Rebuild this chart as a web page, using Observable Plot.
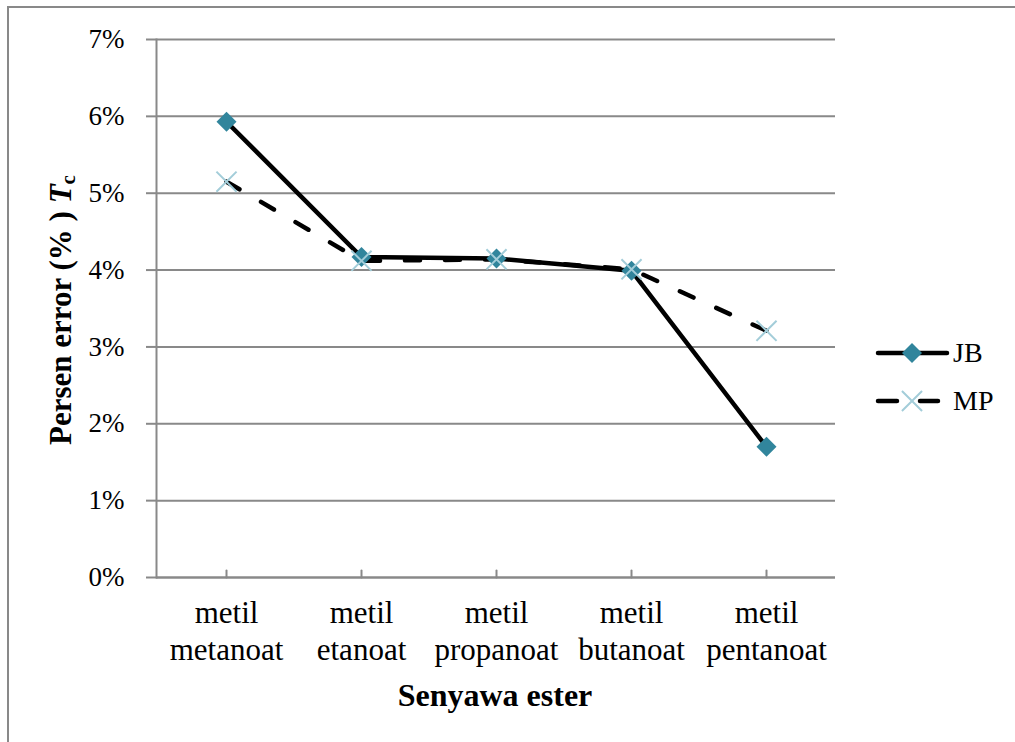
<!DOCTYPE html>
<html>
<head>
<meta charset="utf-8">
<script src="https://cdn.jsdelivr.net/npm/d3@7"></script>
<script src="https://cdn.jsdelivr.net/npm/@observablehq/plot@0.6"></script>
<style>
  html, body { margin: 0; padding: 0; background: #fff; }
  #wrap { position: relative; width: 1015px; height: 742px; overflow: hidden; font-family: "Liberation Serif", "Times New Roman", serif; color: #000; }
  #border { position: absolute; left: 7px; top: 6px; width: 1100px; height: 800px; border-left: 2px solid #898989; border-top: 2px solid #898989; box-sizing: border-box; }
  #chart { position: absolute; left: 0; top: 0; }
  .ytitle { position: absolute; left: 62px; top: 310px; transform: translate(-50%, -50%) rotate(-90deg); font-weight: bold; font-size: 31px; white-space: nowrap; line-height: 1; }
  .ytitle sub { font-size: 21px; vertical-align: -4px; }
  .xtitle { position: absolute; left: 495px; top: 679px; transform: translateX(-50%); font-weight: bold; font-size: 32px; white-space: nowrap; line-height: 1; }
  #legend { position: absolute; left: 870px; top: 330px; }
  .lrow { position: absolute; left: 0; display: flex; align-items: center; font-size: 28px; white-space: nowrap; }
  .lrow svg { display: block; }
</style>
</head>
<body>
<div id="wrap">
  <div id="border"></div>
  <div id="chart"></div>
  <div class="ytitle">Persen error (% ) <i>T</i><sub>c</sub></div>
  <div class="xtitle">Senyawa ester</div>
  <div id="legend"></div>
</div>
<script>
// ---- data ----
const categories = ["metil\nmetanoat", "metil\netanoat", "metil\npropanoat", "metil\nbutanoat", "metil\npentanoat"];
const seriesNames = ["JB", "MP"];
const jbValues = [0.0593, 0.0417, 0.0415, 0.0399, 0.0170];
const mpValues = [0.0515, 0.0412, 0.0414, 0.0401, 0.0321];
const yTicks = [0, 0.01, 0.02, 0.03, 0.04, 0.05, 0.06, 0.07];

// ---- styles ----
const gridColor = "#898989";
const jbColor = "#31859C";
const mpColor = "#A3CDD9";

const jb = categories.map((c, i) => ({cat: c, value: jbValues[i]}));
const mp = categories.map((c, i) => ({cat: c, value: mpValues[i]}));

const tickUp = {draw(context, l) { context.moveTo(0, 0); context.lineTo(0, -l); }};

const chart = Plot.plot({
  width: 1015,
  height: 742,
  marginLeft: 156,
  marginRight: 180,
  marginTop: 39,
  marginBottom: 165,
  style: {fontFamily: "'Liberation Serif', 'Times New Roman', serif", fontSize: "27px", color: "#000", background: "transparent", overflow: "visible"},
  x: {type: "point", domain: categories, padding: 0.5, label: null},
  y: {domain: [0, 0.07], label: null},
  marks: [
    Plot.gridY(yTicks, {stroke: gridColor, strokeOpacity: 1, strokeWidth: 2}),
    Plot.frame({anchor: "left", stroke: gridColor, strokeWidth: 2}),
    Plot.ruleY([0], {stroke: gridColor, strokeWidth: 2}),
    Plot.axisY(yTicks, {tickFormat: d3.format(".0%"), tickSize: 10, tickPadding: 22, stroke: gridColor, strokeWidth: 2, fontSize: 27, fontFamily: "'Liberation Serif', serif", label: null}),
    Plot.vector(categories, {x: (d) => d, y: () => 0, length: 7, rotate: 0, anchor: "start", shape: tickUp, stroke: gridColor, strokeWidth: 2}),
    Plot.axisX({tickSize: 0, tickPadding: 19, fontSize: 31, fontFamily: "'Liberation Serif', serif", lineHeight: 1.19, lineAnchor: "top", label: null}),
    Plot.line(jb, {x: "cat", y: "value", stroke: "#000", strokeWidth: 4.5, strokeLinejoin: "round", strokeLinecap: "round"}),
    Plot.line(mp, {x: "cat", y: "value", stroke: "#000", strokeWidth: 4.5, strokeDasharray: "15,25", strokeLinecap: "round"}),
    Plot.dot(jb, {x: "cat", y: "value", symbol: "diamond2", r: 9, fill: jbColor, stroke: null}),
    Plot.dot(mp, {x: "cat", y: "value", symbol: "times", r: 9.2, stroke: mpColor, strokeWidth: 2, fill: "none"})
  ]
});
document.getElementById("chart").appendChild(chart);

// ---- legend ----
const legend = document.getElementById("legend");
const legendItems = [
  {name: seriesNames[0], dash: null, symbol: d3.symbolDiamond2, size: Math.PI * 81, fill: jbColor, stroke: "none", lineEnd: 77},
  {name: seriesNames[1], dash: "19,23", symbol: d3.symbolTimes, size: Math.PI * 84.6, fill: "none", stroke: mpColor, lineEnd: 68}
];
legendItems.forEach((it, i) => {
  const row = document.createElement("div");
  row.className = "lrow";
  row.style.top = (i * 48) + "px";
  const svg = d3.create("svg").attr("width", 82).attr("height", 46);
  svg.append("line").attr("x1", 8).attr("x2", it.lineEnd).attr("y1", 23).attr("y2", 23)
    .attr("stroke", "#000").attr("stroke-width", 4.5).attr("stroke-linecap", "round")
    .attr("stroke-dasharray", it.dash);
  svg.append("path").attr("d", d3.symbol(it.symbol, it.size)()).attr("transform", "translate(42,23)")
    .attr("fill", it.fill).attr("stroke", it.stroke).attr("stroke-width", 2);
  row.appendChild(svg.node());
  const t = document.createElement("span");
  t.textContent = it.name;
  t.style.marginLeft = "1px";
  row.appendChild(t);
  legend.appendChild(row);
});
</script>
</body>
</html>
